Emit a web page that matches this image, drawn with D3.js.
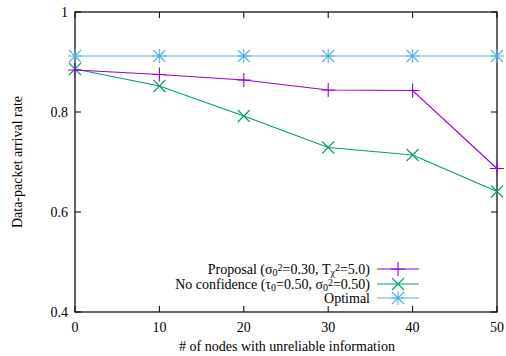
<!DOCTYPE html>
<html>
<head>
<meta charset="utf-8">
<script src="https://cdn.jsdelivr.net/npm/d3@7"></script>
<style>
  body { margin: 0; background: #fff; }
  svg text { font-family: "Liberation Serif", "DejaVu Serif", serif; fill: #000; }
</style>
</head>
<body>
<div id="chart"></div>
<script>
// Data
const xValues = [0, 10, 20, 30, 40, 50];
const proposal = [0.884, 0.875, 0.864, 0.844, 0.843, 0.687];
const noConfidence = [0.886, 0.852, 0.792, 0.729, 0.714, 0.641];
const optimal = [0.912, 0.912, 0.912, 0.912, 0.912, 0.912];
const xTicks = [0, 10, 20, 30, 40, 50];
const yTicks = [0.4, 0.6, 0.8, 1];

const W = 506, H = 356;
const margin = { top: 12, right: 9, bottom: 44, left: 75 };
const width = W - margin.left - margin.right;
const height = H - margin.top - margin.bottom;

const svg = d3.select('#chart').append('svg')
  .attr('width', W).attr('height', H);

const g = svg.append('g')
  .attr('transform', `translate(${margin.left},${margin.top})`);

const x = d3.scaleLinear().domain([0, 50]).range([0, width]);
const y = d3.scaleLinear().domain([0.4, 1]).range([height, 0]);

// ticks, mirrored on all four sides, pointing inward
const tickLen = 6;
xTicks.forEach(t => {
  g.append('line').attr('x1', x(t)).attr('x2', x(t))
    .attr('y1', height).attr('y2', height - tickLen).attr('stroke', '#000');
  g.append('line').attr('x1', x(t)).attr('x2', x(t))
    .attr('y1', 0).attr('y2', tickLen).attr('stroke', '#000');
  g.append('text').attr('x', x(t)).attr('y', height + 20)
    .attr('text-anchor', 'middle').attr('font-size', 14).text(t);
});
yTicks.forEach(t => {
  g.append('line').attr('x1', 0).attr('x2', tickLen)
    .attr('y1', y(t)).attr('y2', y(t)).attr('stroke', '#000');
  g.append('line').attr('x1', width).attr('x2', width - tickLen)
    .attr('y1', y(t)).attr('y2', y(t)).attr('stroke', '#000');
  g.append('text').attr('x', -7).attr('y', y(t) + 5)
    .attr('text-anchor', 'end').attr('font-size', 14).text(d3.format('~g')(t));
});

// frame
g.append('rect').attr('width', width).attr('height', height)
  .attr('fill', 'none').attr('stroke', '#000').attr('stroke-width', 1.2);

// axis titles
svg.append('text').attr('x', margin.left + width / 2 + 1).attr('y', 351)
  .attr('text-anchor', 'middle').attr('font-size', 14)
  .text('# of nodes with unreliable information');
svg.append('text')
  .attr('transform', `translate(22,${margin.top + height / 2}) rotate(-90)`)
  .attr('text-anchor', 'middle').attr('font-size', 14)
  .text('Data-packet arrival rate');

// marker shapes
function marker(sel, type, cx, cy, color) {
  const s = 7, d = 6;
  const p = sel.append('path').attr('stroke', color).attr('fill', 'none').attr('stroke-width', 1.1);
  if (type === 'plus') {
    p.attr('d', `M${cx - s},${cy}H${cx + s}M${cx},${cy - s}V${cy + s}`);
  } else if (type === 'cross') {
    p.attr('d', `M${cx - d},${cy - d}L${cx + d},${cy + d}M${cx - d},${cy + d}L${cx + d},${cy - d}`);
  } else {
    p.attr('d', `M${cx - s},${cy}H${cx + s}M${cx},${cy - s}V${cy + s}` +
      `M${cx - d},${cy - d}L${cx + d},${cy + d}M${cx - d},${cy + d}L${cx + d},${cy - d}`);
  }
}

const series = [
  { values: optimal, color: '#56b4e9', type: 'star' },
  { values: noConfidence, color: '#009e73', type: 'cross' },
  { values: proposal, color: '#9400d3', type: 'plus' }
];

const line = d3.line().x((d, i) => x(xValues[i])).y(d => y(d));

series.forEach(s => {
  g.append('path').datum(s.values).attr('d', line)
    .attr('fill', 'none').attr('stroke', s.color).attr('stroke-width', 1.1);
  s.values.forEach((v, i) => marker(g, s.type, x(xValues[i]), y(v), s.color));
});

// legend
const legend = svg.append('g');
const legendRows = [
  { color: '#9400d3', type: 'plus', y: 269,
    parts: [['Proposal (σ'], ['0', 'sub'], ['2', 'sup'], ['=0.30, T'], ['χ', 'sub'], ['2', 'sup'], ['=5.0)']] },
  { color: '#009e73', type: 'cross', y: 284,
    parts: [['No confidence (τ'], ['0', 'sub'], ['=0.50, σ'], ['0', 'sub'], ['2', 'sup'], ['=0.50)']] },
  { color: '#56b4e9', type: 'star', y: 298, parts: [['Optimal']] }
];
legendRows.forEach(r => {
  const t = legend.append('text').attr('x', 370).attr('y', r.y + 5)
    .attr('text-anchor', 'end').attr('font-size', 14);
  r.parts.forEach(([str, kind]) => {
    const ts = t.append('tspan').text(str);
    if (kind === 'sub') ts.attr('baseline-shift', '-15%').attr('font-size', 10);
    if (kind === 'sup') ts.attr('baseline-shift', '30%').attr('font-size', 10);
  });
  legend.append('line').attr('x1', 377).attr('x2', 419)
    .attr('y1', r.y).attr('y2', r.y).attr('stroke', r.color).attr('stroke-width', 1.1);
  marker(legend, r.type, 398, r.y, r.color);
});
</script>
</body>
</html>
